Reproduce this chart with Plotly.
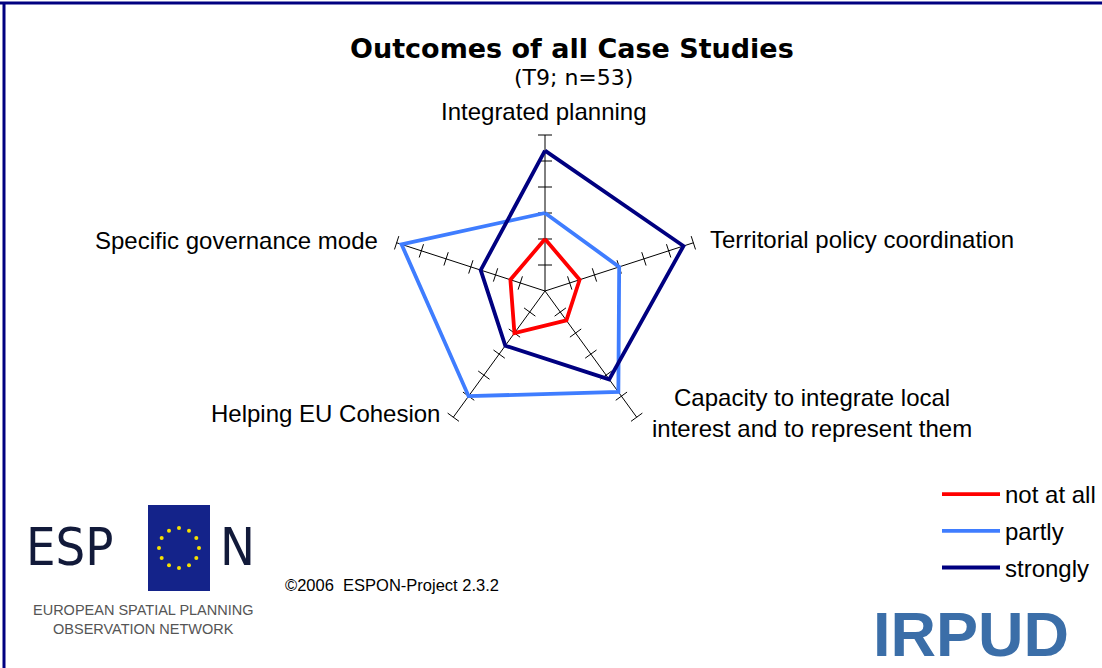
import math

import plotly.graph_objects as go

# data (number of case studies, 0..30 scale)
categories = [
    "Integrated planning",
    "Territorial policy coordination",
    "Capacity to integrate local interest and to represent them",
    "Helping EU Cohesion",
    "Specific governance mode",
]
not_at_all = [10, 7, 7, 10, 7]
partly = [15, 15, 24, 25, 29]
strongly = [27, 28, 21, 13, 13]
tick_values = [5, 10, 15, 20, 25, 30]

series = [
    ("not at all", not_at_all, "#ff0000"),
    ("partly", partly, "#3f7dff"),
    ("strongly", strongly, "#000080"),
]

W, H = 1102, 668
LABEL_FONT = "Liberation Sans, Arial, sans-serif"
NARROW_FONT = "DejaVu Sans Condensed, Liberation Sans Narrow, Roboto Condensed, Liberation Sans, sans-serif"


def px(x):
    return x / W


def py(y):
    return 1 - y / H


def note(x, y, text, size, family=LABEL_FONT, color="black", xanchor="center", align="center"):
    fig.add_annotation(
        x=px(x), y=py(y), xref="paper", yref="paper",
        text=text, showarrow=False, xanchor=xanchor, yanchor="middle",
        align=align, font=dict(family=family, size=size, color=color),
    )


fig = go.Figure()

# small cross ticks along each spoke
tick_r, tick_theta, tick_angle = [], [], []
for k, cat in enumerate(categories):
    for v in tick_values:
        tick_r.append(v)
        tick_theta.append(cat)
        tick_angle.append(72 * k)

fig.add_trace(
    go.Scatterpolar(
        r=tick_r,
        theta=tick_theta,
        mode="markers",
        marker=dict(
            symbol="line-ew",
            size=10,
            angle=tick_angle,
            line=dict(color="black", width=1),
        ),
        showlegend=False,
        hoverinfo="skip",
    )
)

for name, values, color in series:
    fig.add_trace(
        go.Scatterpolar(
            r=values + values[:1],
            theta=categories + categories[:1],
            mode="lines",
            name=name,
            line=dict(color=color, width=3.8),
            legendgroup=name,
        )
    )

cx, cy, R = 545, 291, 156
fig.update_layout(
    width=W,
    height=H,
    margin=dict(l=0, r=0, t=0, b=0, autoexpand=False),
    paper_bgcolor="white",
    plot_bgcolor="white",
    polar=dict(
        domain=dict(x=[px(cx - R), px(cx + R)], y=[py(cy + R), py(cy - R)]),
        bgcolor="rgba(0,0,0,0)",
        radialaxis=dict(
            range=[0, 30],
            showgrid=False,
            showline=False,
            showticklabels=False,
            ticks="",
        ),
        angularaxis=dict(
            direction="clockwise",
            rotation=90,
            showline=False,
            showgrid=True,
            gridcolor="black",
            gridwidth=1,
            showticklabels=False,
            ticks="",
        ),
    ),
    legend=dict(
        x=px(937),
        y=py(472),
        xanchor="left",
        yanchor="top",
        font=dict(family=LABEL_FONT, size=24, color="black"),
        itemwidth=58,
        tracegroupgap=2.5,
        bgcolor="rgba(0,0,0,0)",
    ),
    showlegend=True,
)

# axis labels
label_pos = [
    (544, 111, "center", "Integrated planning"),
    (708, 240, "left", "Territorial policy coordination"),
    (812, 413, "center", "Capacity to integrate local<br>interest and to represent them"),
    (442, 413, "right", "Helping EU Cohesion"),
    (380, 241, "right", "Specific governance mode"),
]
for x, y, anchor, text in label_pos:
    note(x, y, text, 24, xanchor=anchor)

# titles
note(572, 48, "<b>Outcomes of all Case Studies</b>", 27, family="DejaVu Sans, Verdana, sans-serif")
note(573, 77, "(T9; n=53)", 22, family="DejaVu Sans, Verdana, sans-serif")

# footer
note(283, 585, "©2006  ESPON-Project 2.3.2", 16.5, xanchor="left")

# ESPON logo
fig.add_shape(type="rect", xref="paper", yref="paper",
              x0=px(148), x1=px(210), y0=py(591), y1=py(505),
              fillcolor="#14238a", line=dict(width=0))
for i in range(12):
    a = 2 * math.pi * i / 12
    sx, sy = 179 + 20 * math.cos(a), 548 + 20 * math.sin(a)
    fig.add_shape(type="circle", xref="paper", yref="paper",
                  x0=px(sx - 2), x1=px(sx + 2), y0=py(sy + 2), y1=py(sy - 2),
                  fillcolor="#f5e000", line=dict(width=0))
note(69, 547, "ESP", 52, family=NARROW_FONT, color="#121a3a")
note(237, 547, "N", 52, family=NARROW_FONT, color="#121a3a")
note(143, 619, "EUROPEAN SPATIAL PLANNING<br>OBSERVATION NETWORK", 14.5, color="#555555")

# IRPUD logo
note(971, 634, "<b>IRPUD</b>", 63, color="#3b6ea8")

# frame
fig.add_shape(type="line", xref="paper", yref="paper",
              x0=0, x1=1, y0=py(3), y1=py(3), line=dict(color="#000080", width=3))
fig.add_shape(type="line", xref="paper", yref="paper",
              x0=px(4), x1=px(4), y0=py(2), y1=0, line=dict(color="#000080", width=3))

fig.write_html(
    "out.html",
    config={"displayModeBar": False},
    post_script="document.body.style.margin='0';document.body.style.overflow='hidden';",
)
